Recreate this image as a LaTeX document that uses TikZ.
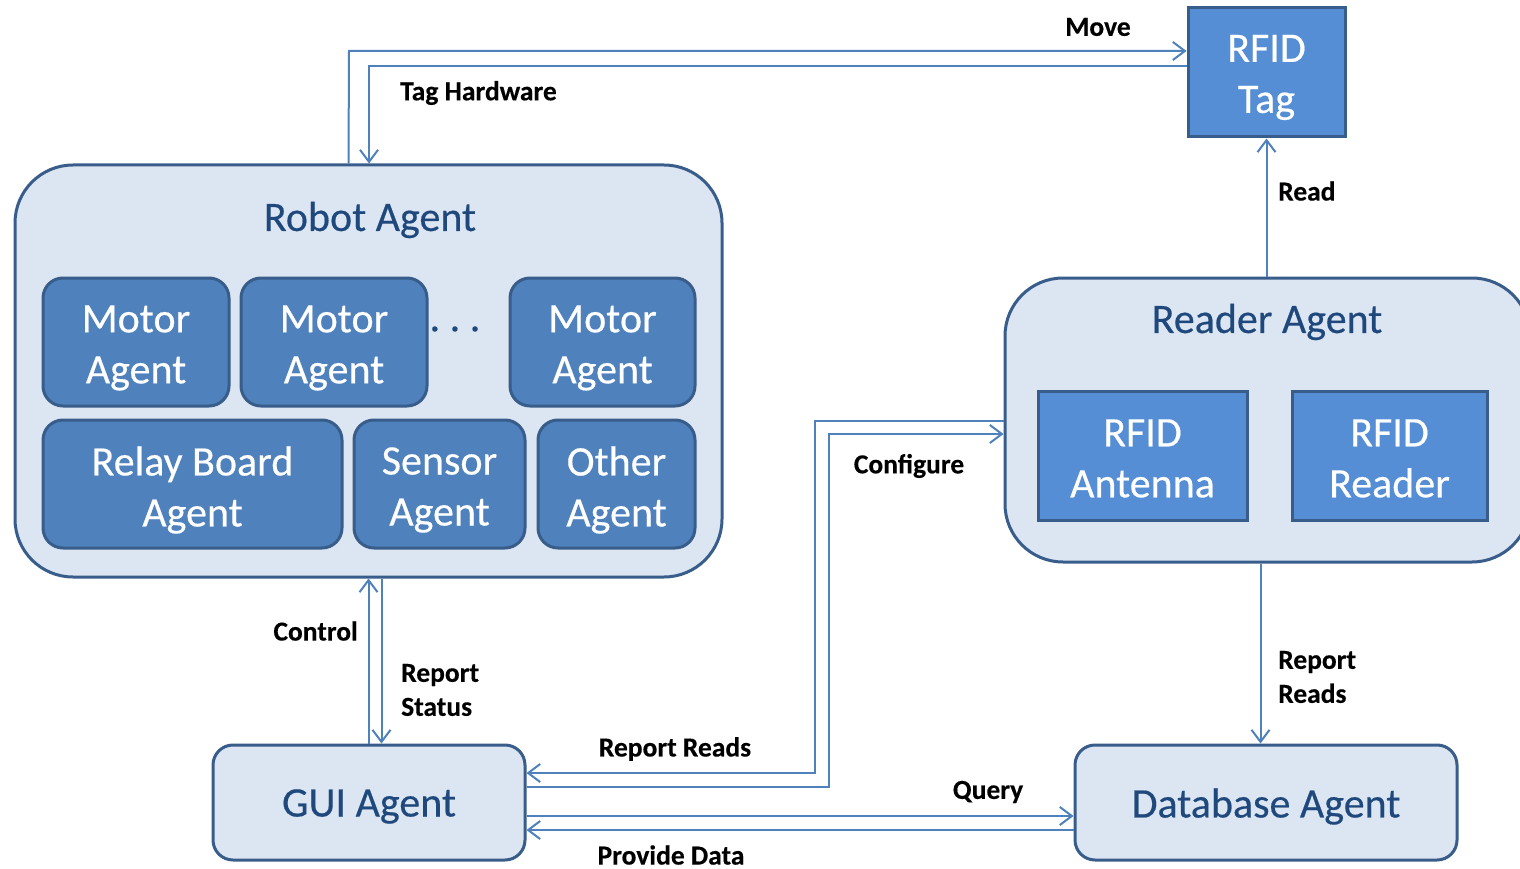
\documentclass[tikz,border=0pt]{standalone}
\usepackage{fontspec}
\setmainfont{Carlito}
\newfontfamily\bigfont{Carlito}[FakeBold=0.4]
\newfontfamily\lblfont{Carlito Bold}[FakeBold=0.3]
\usetikzlibrary{arrows.meta,calc}
\definecolor{contfill}{HTML}{DCE6F2}
\definecolor{contdraw}{HTML}{385D8A}
\definecolor{innerfill}{HTML}{4F81BD}
\definecolor{rfidfill}{HTML}{558ED5}
\definecolor{titlecol}{HTML}{1F497D}
\definecolor{linecol}{HTML}{4F81BD}
\begin{document}
\begin{tikzpicture}[x=1pt,y=-1pt,
  container/.style={draw=contdraw,fill=contfill,line width=3pt,rounded corners=58pt},
  smallcont/.style={draw=contdraw,fill=contfill,line width=3pt,rounded corners=20pt},
  innerbox/.style={draw=contdraw,fill=innerfill,line width=3pt,rounded corners=20pt},
  rfidbox/.style={draw=contdraw,fill=rfidfill,line width=3pt},
  boxtext/.style={text=white,align=center,inner sep=0pt,font=\bigfont\fontsize{42}{51}\selectfont},
  titletext/.style={text=titlecol,inner sep=0pt,font=\bigfont\fontsize{42}{51}\selectfont},
  lbl/.style={font=\lblfont\fontsize{27.5}{34}\selectfont,text=black,inner sep=0pt},
  arr/.style={draw=linecol,line width=2pt,-{Straight Barb[length=12pt,width=18pt,line width=2pt]}}
]
\useasboundingbox (0,0) rectangle (1520,869);

% Robot agent
\node[container,minimum width=707,minimum height=412] (robot) at (368.5,371) {};
\node[titletext] (robottitle) at (370,220) {Robot Agent};
\node[innerbox,minimum width=186,minimum height=128] (m1) at (136,342) {};
\node[innerbox,minimum width=186,minimum height=128] (m2) at (334,342) {};
\node[innerbox,minimum width=185,minimum height=128] (m3) at (602.5,342) {};
\node[innerbox,minimum width=299,minimum height=128] (relay) at (192.5,484) {};
\node[innerbox,minimum width=171,minimum height=128] (sensor) at (439.5,484) {};
\node[innerbox,minimum width=157,minimum height=128] (other) at (616.5,484) {};
\node[boxtext] (m1t) at ([yshift=-6pt]m1.center) {Motor\\Agent};
\node[boxtext] (m2t) at ([yshift=-6pt]m2.center) {Motor\\Agent};
\node[boxtext] (m3t) at ([yshift=-6pt]m3.center) {Motor\\Agent};
\node[boxtext] (relayt) at ([yshift=-6pt]relay.center) {Relay Board\\Agent};
\node[boxtext] (sensort) at ([yshift=-6pt]sensor.center) {Sensor\\Agent};
\node[boxtext] (othert) at ([yshift=-6pt]other.center) {Other\\Agent};
\node[titletext] (dots) at (455,329) {.\ .\ .};

% Reader agent
\node[container,minimum width=525,minimum height=284] (reader) at (1267.5,420) {};
\node[titletext] (readertitle) at (1267,322) {Reader Agent};
\node[rfidbox,minimum width=209,minimum height=129] (antenna) at (1142.5,455.5) {};
\node[rfidbox,minimum width=195,minimum height=129] (rreader) at (1389.5,455.5) {};
\node[boxtext] (antennat) at ([yshift=-3pt]antenna.center) {RFID\\Antenna};
\node[boxtext] (rreadert) at ([yshift=-3pt]rreader.center) {RFID\\Reader};

% RFID tag
\node[rfidbox,minimum width=157,minimum height=129] (tag) at (1266.5,72.5) {};
\node[boxtext] (tagt) at ([yshift=-5pt]tag.center) {RFID\\Tag};

% GUI and database
\node[smallcont,minimum width=312,minimum height=115] (gui) at (369,802.5) {};
\node[smallcont,minimum width=382,minimum height=115] (db) at (1266,802.5) {};
\node[titletext] (guit) at ([yshift=-4pt]gui.center) {GUI Agent};
\node[titletext] (dbt) at ([yshift=-4pt]db.center) {Database Agent};

% corner coordinates
\coordinate (mvA) at (349,51);
\coordinate (thA) at (369,66);
\coordinate (cfA) at (829,787);
\coordinate (cfB) at (829,434);
\coordinate (rrA) at (815,421);
\coordinate (rrB) at (815,773);

% Move
\draw[arr] ([xshift=-20pt]robot.north) -- (mvA) -- (mvA -| tag.west);
% Tag Hardware
\draw[arr] (thA -| tag.west) -- (thA) -- (thA |- robot.north);
% Read
\draw[arr] (reader.north -| tag.south) -- (tag.south);
% Control
\draw[arr] (gui.north -| robot.south) -- (robot.south);
% Report Status
\draw[arr] ([xshift=13pt]robot.south) -- ([xshift=13pt]robot.south |- gui.north);
% Configure
\draw[arr] (cfA -| gui.east) -- (cfA) -- (cfB) -- (cfB -| reader.west);
% Report Reads (to GUI)
\draw[arr] (rrA -| reader.west) -- (rrA) -- (rrB) -- (rrB -| gui.east);
% Query
\draw[arr] ([yshift=-13.5pt]gui.east) -- ([yshift=-13.5pt]gui.east -| db.west);
% Provide Data
\draw[arr] ([yshift=-27.5pt]db.west) -- ([yshift=-27.5pt]db.west -| gui.east);
% Report Reads (to DB)
\draw[arr] ([xshift=-7pt]reader.south) -- ([xshift=-7pt]reader.south |- db.north);

% labels
\node[lbl] (lmove) at (1098,27) {Move};
\node[lbl,anchor=west] (ltag) at (400,93) {Tag Hardware};
\node[lbl,anchor=west] (lread) at (1278,191) {Read};
\node[lbl,anchor=east] (lcontrol) at (358,631) {Control};
\node[lbl,anchor=west,align=left] (lstatus) at (401,690) {Report\\Status};
\node[lbl] (lconf) at (909,466) {Configure};
\node[lbl] (lrr1) at (675,749) {Report Reads};
\node[lbl] (lquery) at (988,792) {Query};
\node[lbl] (lprov) at (671,855) {Provide Data};
\node[lbl,anchor=west,align=left] (lrr2) at (1278,677) {Report\\Reads};
\end{tikzpicture}
\end{document}
